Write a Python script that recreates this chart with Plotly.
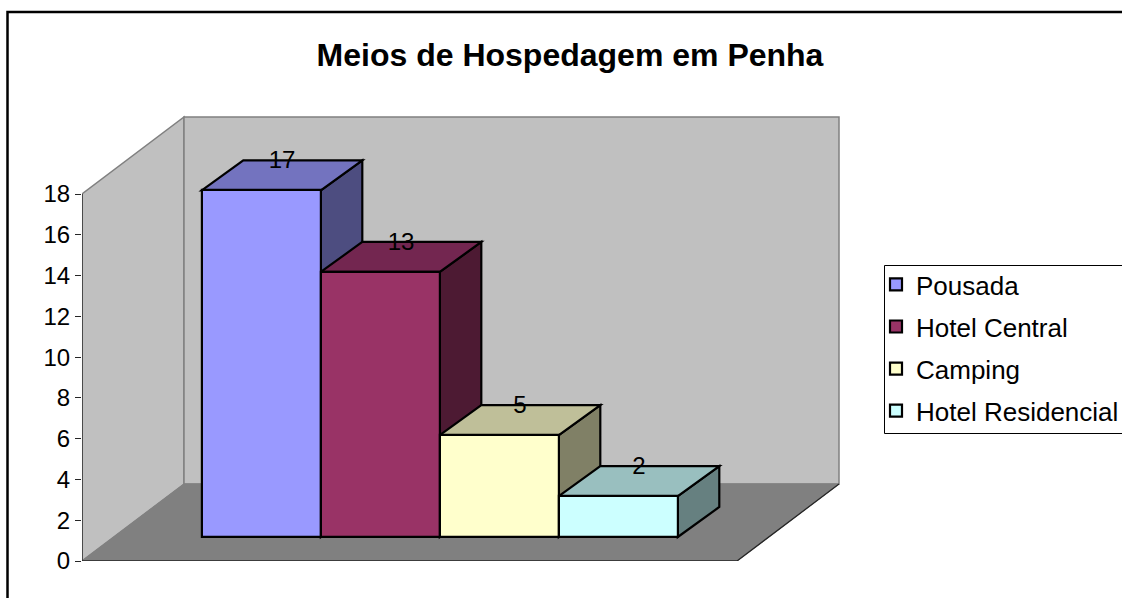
import plotly.graph_objects as go

categories = ["Pousada", "Hotel Central", "Camping", "Hotel Residencial"]
values = [17, 13, 5, 2]
front_colors = ["#9999FF", "#993366", "#FFFFCC", "#CCFFFF"]
top_colors = ["#7373BF", "#732650", "#BFBF99", "#99BFBF"]
side_colors = ["#4D4D80", "#4D1A33", "#808066", "#668080"]
y_ticks = [0, 2, 4, 6, 8, 10, 12, 14, 16, 18]
title = "Meios de Hospedagem em Penha"

W, H = 1122, 598
FONT = "Liberation Sans"
# pixel geometry of the plot region
PX_AXIS, PX_RIGHT = 82, 846
PX_ZERO, PX_TOP = 561, 110
PX_PER_VAL = 367 / 18
PX_PER_CAT = 119.0

FLOOR_W = 655 / PX_PER_CAT
WALL_DX = 102 / PX_PER_CAT
WALL_DY = 77 / PX_PER_VAL
BAR_X0 = 119.8 / PX_PER_CAT
BAR_BASE = 24 / PX_PER_VAL
DEPTH_DX = 41.5 / PX_PER_CAT
DEPTH_DY = 30 / PX_PER_VAL
LABEL_DROP = 2 / PX_PER_VAL
TOP_VAL = max(y_ticks)


def poly(points, fill, line_color=None, width=0):
    path = "M" + " L".join(f"{x},{y}" for x, y in points) + " Z"
    return dict(type="path", xref="x", yref="y", path=path, fillcolor=fill, layer="below",
                line=dict(color=line_color or fill, width=width))


shapes = [
    # left wall, back wall, floor
    poly([(0, 0), (WALL_DX, WALL_DY), (WALL_DX, WALL_DY + TOP_VAL), (0, TOP_VAL)], "#C0C0C0", "#808080", 1.5),
    poly([(WALL_DX, WALL_DY), (WALL_DX + FLOOR_W, WALL_DY), (WALL_DX + FLOOR_W, WALL_DY + TOP_VAL), (WALL_DX, WALL_DY + TOP_VAL)],
         "#C0C0C0", "#808080", 1.5),
    poly([(0, 0), (FLOOR_W, 0), (FLOOR_W + WALL_DX, WALL_DY), (WALL_DX, WALL_DY)], "#808080", "#808080", 1),
]
for i, v in enumerate(values):
    x0, x1 = BAR_X0 + i, BAR_X0 + i + 1
    y0, y1 = BAR_BASE, BAR_BASE + v
    shapes.append(poly([(x1, y0), (x1 + DEPTH_DX, y0 + DEPTH_DY), (x1 + DEPTH_DX, y1 + DEPTH_DY), (x1, y1)],
                       side_colors[i], "#000000", 2.2))
    shapes.append(poly([(x0, y1), (x1, y1), (x1 + DEPTH_DX, y1 + DEPTH_DY), (x0 + DEPTH_DX, y1 + DEPTH_DY)],
                       top_colors[i], "#000000", 2.2))

# outer chart border: runs off the right and bottom of the page
shapes.append(dict(type="rect", xref="paper", yref="paper", x0=7.5 / W, x1=1.05, y0=-0.05, y1=1 - 12 / H,
                   line=dict(color="#000000", width=2.5), layer="above"))
# legend frame: runs off the right of the page
shapes.append(dict(type="rect", xref="paper", yref="paper", x0=884.5 / W, x1=1.05, y0=1 - 433.5 / H, y1=1 - 265.5 / H,
                   line=dict(color="#000000", width=1), layer="above"))

fig = go.Figure()
for i, (name, v) in enumerate(zip(categories, values)):
    fig.add_trace(go.Bar(x=[BAR_X0 + i + 0.5], y=[v], base=BAR_BASE, width=1, name=name, legendgroup=name,
                         marker=dict(color=front_colors[i], line=dict(color="#000000", width=2.2))))

# axis and floor edges
fig.add_trace(go.Scatter(x=[0, 0, FLOOR_W, FLOOR_W + WALL_DX], y=[TOP_VAL, 0, 0, WALL_DY], mode="lines",
                         line=dict(color="#262626", width=1.3), showlegend=False, cliponaxis=False, hoverinfo="skip"))
# value labels centred over the back edge of each bar top
fig.add_trace(go.Scatter(x=[BAR_X0 + i + 0.5 + DEPTH_DX / 2 for i in range(len(values))],
                         y=[BAR_BASE + v + DEPTH_DY - LABEL_DROP for v in values],
                         text=[str(v) for v in values], mode="text", textposition="middle center",
                         textfont=dict(family=FONT, size=24, color="#000000"),
                         showlegend=False, cliponaxis=False, hoverinfo="skip"))

fig.update_layout(
    width=W, height=H, autosize=False, paper_bgcolor="#FFFFFF", plot_bgcolor="rgba(0,0,0,0)",
    margin=dict(l=0, r=0, t=0, b=0, pad=0, autoexpand=False),
    barmode="overlay", shapes=shapes, bargap=0,
    font=dict(family=FONT, color="#000000"),
    title=dict(text=f"<b>{title}</b>", font=dict(family=FONT, size=32, color="#000000"),
               x=570 / W, xanchor="center", y=1 - 55 / H, yanchor="middle", xref="paper", yref="paper"),
    xaxis=dict(domain=[PX_AXIS / W, PX_RIGHT / W], range=[0, (PX_RIGHT - PX_AXIS) / PX_PER_CAT],
               visible=False, fixedrange=True),
    yaxis=dict(domain=[1 - PX_ZERO / H, 1 - PX_TOP / H], range=[0, (PX_ZERO - PX_TOP) / PX_PER_VAL],
               tickmode="array", tickvals=y_ticks, ticktext=[str(t) for t in y_ticks],
               ticks="outside", ticklen=6, tickwidth=1.3, tickcolor="#262626", showgrid=False, zeroline=False,
               showline=False, tickfont=dict(family=FONT, size=24, color="#000000"), fixedrange=True),
    legend=dict(x=876 / W, xanchor="left", y=1 - 261 / H, yanchor="top", orientation="v",
                borderwidth=0, bgcolor="rgba(0,0,0,0)", traceorder="grouped", tracegroupgap=5.3,
                font=dict(family=FONT, size=26, color="#000000"), itemclick=False, itemdoubleclick=False),
    showlegend=True,
)
fig.write_html("out.html", config={"displayModeBar": False},
               post_script="document.body.style.margin='0';document.documentElement.style.overflow='hidden';")
